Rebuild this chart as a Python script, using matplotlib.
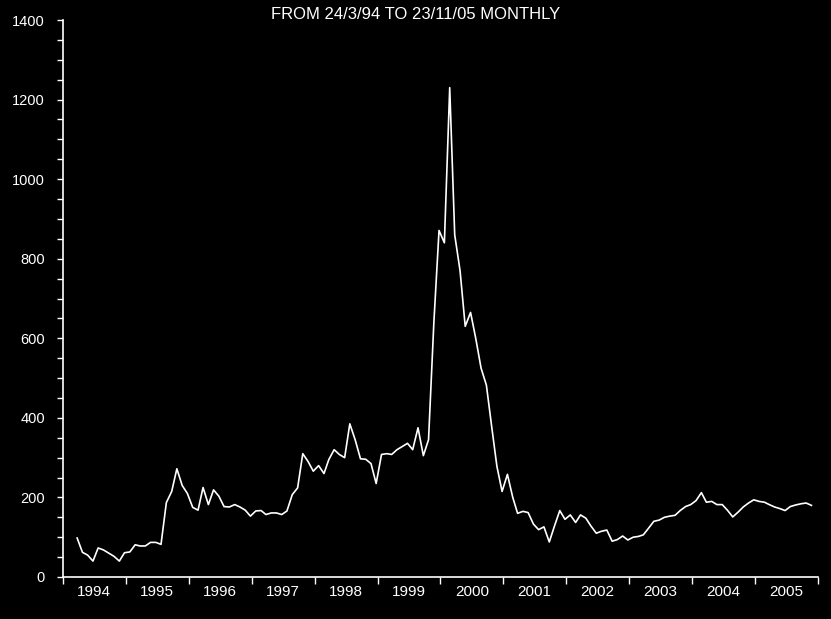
import matplotlib
matplotlib.use('Agg')
import matplotlib.pyplot as plt
import matplotlib.dates as mdates
import pandas as pd

# monthly values, 24/3/94 .. 23/11/05
values = [98, 62, 55, 40, 73, 68, 60, 52, 40, 61, 63, 81,
          78, 78, 87, 87, 82, 187, 215, 272, 230, 210, 175, 168,
          225, 182, 219, 203, 177, 176, 182, 176, 168, 153, 166, 167,
          157, 161, 161, 157, 166, 207, 224, 310, 290, 266, 280, 260,
          295, 320, 308, 300, 385, 345, 297, 296, 285, 235, 308, 310,
          308, 320, 328, 336, 320, 375, 305, 345, 640, 871, 840, 1230,
          860, 770, 630, 665, 600, 525, 482, 380, 278, 215, 258, 200,
          160, 165, 162, 133, 119, 126, 88, 128, 167, 145, 156, 137,
          156, 148, 128, 110, 115, 118, 90, 94, 103, 93, 100, 102,
          106, 123, 140, 143, 150, 153, 155, 167, 177, 182, 192, 212,
          188, 190, 182, 182, 168, 151, 163, 176, 186, 194, 190, 188,
          182, 176, 172, 167, 177, 181, 184, 186, 180]
start_date = '1994-03-24'
title = 'FROM 24/3/94 TO 23/11/05 MONTHLY'
years = list(range(1994, 2006))

dates = pd.date_range(start_date, periods=len(values), freq=pd.DateOffset(months=1))

plt.rcParams['font.family'] = ['Liberation Sans Narrow', 'Liberation Sans', 'DejaVu Sans']

fig = plt.figure(figsize=(8.31, 6.19), dpi=100, facecolor='black')
ax = fig.add_axes([63 / 831, 42 / 619, 755 / 831, 557 / 619])
ax.set_facecolor('black')

ax.plot(dates, values, color='white', lw=1.2)

ax.set_xlim(pd.Timestamp('1994-01-01'), pd.Timestamp('2006-01-01'))
ax.set_ylim(0, 1400)

for s in ['top', 'right']:
    ax.spines[s].set_visible(False)
for s in ['left', 'bottom']:
    ax.spines[s].set_color('white')
    ax.spines[s].set_linewidth(1.2)

# y axis: majors every 200, minors every 50
ax.set_yticks(range(0, 1401, 200))
ax.set_yticks(range(0, 1401, 50), minor=True)
ax.tick_params(axis='y', which='both', direction='out', length=4, width=1,
               colors='white', labelsize=10.5, pad=9)

# x axis: ticks on year boundaries, labels in the middle of each year
ax.xaxis.set_major_locator(mdates.YearLocator())
ax.xaxis.set_major_formatter(plt.NullFormatter())
ax.xaxis.set_minor_locator(mdates.MonthLocator(bymonth=7))
ax.xaxis.set_minor_formatter(mdates.DateFormatter('%Y'))
ax.tick_params(axis='x', which='major', direction='out', length=5, width=1, colors='white')
ax.tick_params(axis='x', which='minor', length=0, colors='white', labelsize=11, pad=6)

fig.text(0.5, 0.976, title, color='white', fontsize=12, ha='center', va='center')

fig.savefig('out.png', dpi=100, facecolor='black')
